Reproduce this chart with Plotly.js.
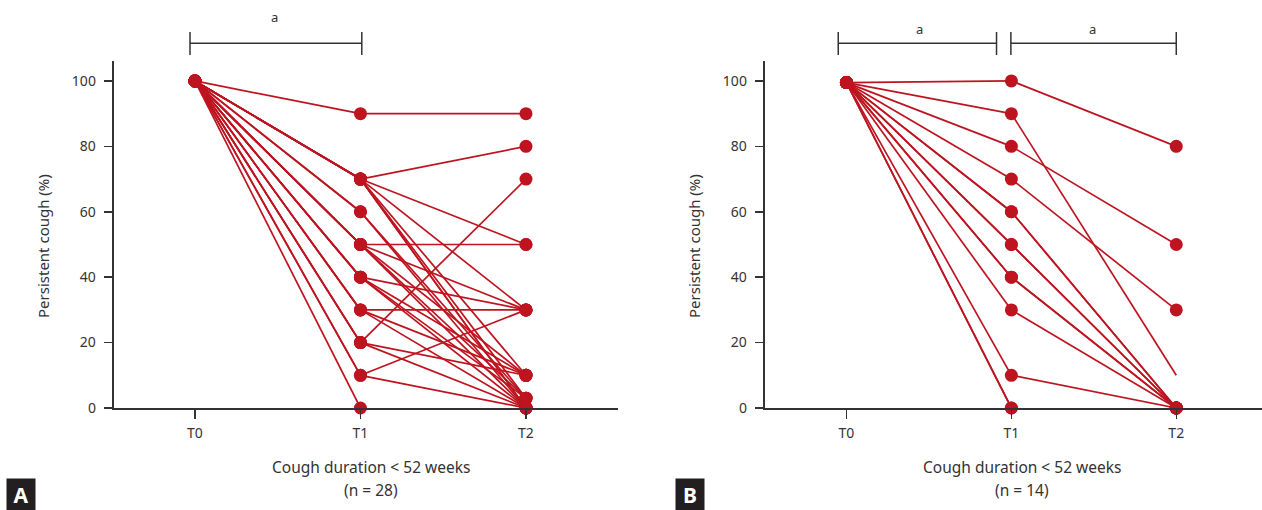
<!DOCTYPE html>
<html>
<head>
<meta charset="utf-8">
<script src="https://cdn.plot.ly/plotly-3.0.1.min.js"></script>
<style>html,body{margin:0;padding:0;background:#fff;}#chart{width:1262px;height:510px;}</style>
</head>
<body>
<div id="chart"></div>
<script>
// ---- data ----
const timepoints = ['T0', 'T1', 'T2'];
const yTicks = [0, 20, 40, 60, 80, 100];

// Panel A: cough duration < 52 weeks (n = 28), one entry per patient
const panelA_T0 = [100,100,100,100,100,100,100,100,100,100,100,100,100,100,100,100,100,100,100,100,100,100,100,100,100,100,100,100];
const panelA_T1 = [90, 70, 70, 70, 70, 70, 70, 70, 60, 60, 50, 50, 50, 50, 50, 40, 40, 40, 40, 30, 30, 30, 20, 20, 20, 10, 10, 0];
const panelA_T2 = [90, 80, 50, 30, 10, 3, 0, 0, 0, 3, 50, 30, 10, 3, 0, 30, 10, 3, 0, 30, 10, 0, 70, 10, 0, 30, 0, 0];

// Panel B: cough duration < 52 weeks (n = 14)
const panelB_T0 = [99.5,99.5,99.5,99.5,99.5,99.5,99.5,99.5,99.5,99.5,99.5,99.5,99.5,99.5];
const panelB_T1 = [100, 90, 80, 70, 60, 60, 50, 50, 40, 40, 30, 10, 0, 0];
const panelB_T2 = [80, 10, 50, 30, 0, 0, 0, 0, 0, 0, 0, 0, 0, 0];
const panelB_T2_drawn = [true, false, true, true, true, true, true, true, true, true, true, true, true, true];

const panelTitle = 'Cough duration &lt; 52 weeks';
const panelA_n = '(n = 28)';
const panelB_n = '(n = 14)';
const yTitle = 'Persistent cough (%)';
const sigLabel = 'a';

// ---- styling ----
const RED = '#BE1420';
const INK = '#333333';
const FONT = 'Noto Sans, Open Sans, sans-serif';
const W = 1262, H = 510;
const px = v => v / W;
const py = v => (H - v) / H;

function buildTraces(t0, t1, t2, drawn, xa, ya) {
  const lx = [], ly = [];
  const mx = [], my = [];
  for (let i = 0; i < t1.length; i++) {
    lx.push(0, 1, null);
    ly.push(t0[i], t1[i], null);
    // segments lying on the baseline are hidden by the axis line in the original
    if (!(t1[i] === 0 && t2[i] === 0)) {
      lx.push(1, 2, null);
      ly.push(t1[i], t2[i], null);
    }
    mx.push(0, 1); my.push(t0[i], t1[i]);
    if (!drawn || drawn[i]) { mx.push(2); my.push(t2[i]); }
  }
  return [
    {x: lx, y: ly, xaxis: xa, yaxis: ya, mode: 'lines', type: 'scatter',
     line: {color: RED, width: 1.7}, hoverinfo: 'skip', showlegend: false, cliponaxis: false},
    {x: mx, y: my, xaxis: xa, yaxis: ya, mode: 'markers', type: 'scatter',
     marker: {color: RED, size: 13}, showlegend: false, cliponaxis: false}
  ];
}

const data = [
  ...buildTraces(panelA_T0, panelA_T1, panelA_T2, null, 'x', 'y'),
  ...buildTraces(panelB_T0, panelB_T1, panelB_T2, panelB_T2_drawn, 'x2', 'y2')
];

const yDomain = [py(408), py(61)];
function xAxis(domain, range) {
  return {
    domain: domain, range: range, tickvals: [0, 1, 2], ticktext: timepoints,
    showline: true, linecolor: INK, linewidth: 2, ticks: 'outside', ticklen: 9,
    tickwidth: 1.5, tickcolor: INK, showgrid: false, zeroline: false,
    tickfont: {family: FONT, size: 14, color: INK}, automargin: false, fixedrange: true,
    ticklabelstandoff: 2
  };
}
function yAxis(anchor) {
  return {
    domain: yDomain, range: [0, 106.1], tickvals: yTicks, anchor: anchor,
    showline: true, linecolor: INK, linewidth: 2, ticks: 'outside', ticklen: 8,
    tickwidth: 1.5, tickcolor: INK, showgrid: false, zeroline: false,
    tickfont: {family: FONT, size: 14, color: INK}, automargin: false, fixedrange: true,
    ticklabelstandoff: 5
  };
}

function bracket(xref, x0, x1) {
  const yl = py(43.3), yt = py(32), yb = py(55);
  const l = {color: INK, width: 1.5};
  return [
    {type: 'line', xref: xref, yref: 'paper', x0: x0, x1: x1, y0: yl, y1: yl, line: l},
    {type: 'line', xref: xref, yref: 'paper', x0: x0, x1: x0, y0: yt, y1: yb, line: l},
    {type: 'line', xref: xref, yref: 'paper', x0: x1, x1: x1, y0: yt, y1: yb, line: l}
  ];
}

function txt(text, x, y, size, extra) {
  return Object.assign({text: text, xref: 'paper', yref: 'paper', x: px(x), y: py(y),
    xanchor: 'center', yanchor: 'middle', showarrow: false,
    font: {family: FONT, size: size, color: INK}}, extra || {});
}

const annotations = [
  txt(panelTitle, 370.5, 467, 15.5),
  txt(panelA_n, 371, 490, 15.5),
  txt(panelTitle, 1022, 467, 15.5),
  txt(panelB_n, 1022, 490, 15.5),
  txt(yTitle, 43, 246, 15, {textangle: -90}),
  txt(yTitle, 694, 246, 15, {textangle: -90}),
  {text: sigLabel, xref: 'x', yref: 'paper', x: 0.48, y: py(17), showarrow: false,
   xanchor: 'center', yanchor: 'middle', font: {family: FONT, size: 13, color: INK}},
  {text: sigLabel, xref: 'x2', yref: 'paper', x: 0.44, y: py(29), showarrow: false,
   xanchor: 'center', yanchor: 'middle', font: {family: FONT, size: 13, color: INK}},
  {text: sigLabel, xref: 'x2', yref: 'paper', x: 1.49, y: py(29), showarrow: false,
   xanchor: 'center', yanchor: 'middle', font: {family: FONT, size: 13, color: INK}},
  txt('<b>A</b>', 21, 494.5, 21, {bgcolor: '#231F20', width: 28, height: 31, borderpad: 0,
      font: {family: FONT, size: 21, color: '#ffffff'}}),
  txt('<b>B</b>', 690, 494.5, 21, {bgcolor: '#231F20', width: 28, height: 31, borderpad: 0,
      font: {family: FONT, size: 21, color: '#ffffff'}})
];

const layout = {
  width: W, height: H,
  margin: {l: 0, r: 0, t: 0, b: 0, pad: 0},
  paper_bgcolor: '#ffffff', plot_bgcolor: 'rgba(0,0,0,0)',
  showlegend: false, hovermode: false,
  xaxis: Object.assign(xAxis([px(113.7), px(618)], [-0.491, 2.556]), {anchor: 'y'}),
  yaxis: yAxis('x'),
  xaxis2: Object.assign(xAxis([px(764.7), 1], [-0.496, 2.52]), {anchor: 'y2'}),
  yaxis2: yAxis('x2'),
  shapes: [
    ...bracket('x', -0.03, 1.008),
    ...bracket('x2', -0.05, 0.91),
    ...bracket('x2', 0.997, 2.0)
  ],
  annotations: annotations
};

Plotly.newPlot('chart', data, layout, {displayModeBar: false, staticPlot: true});
</script>
</body>
</html>
